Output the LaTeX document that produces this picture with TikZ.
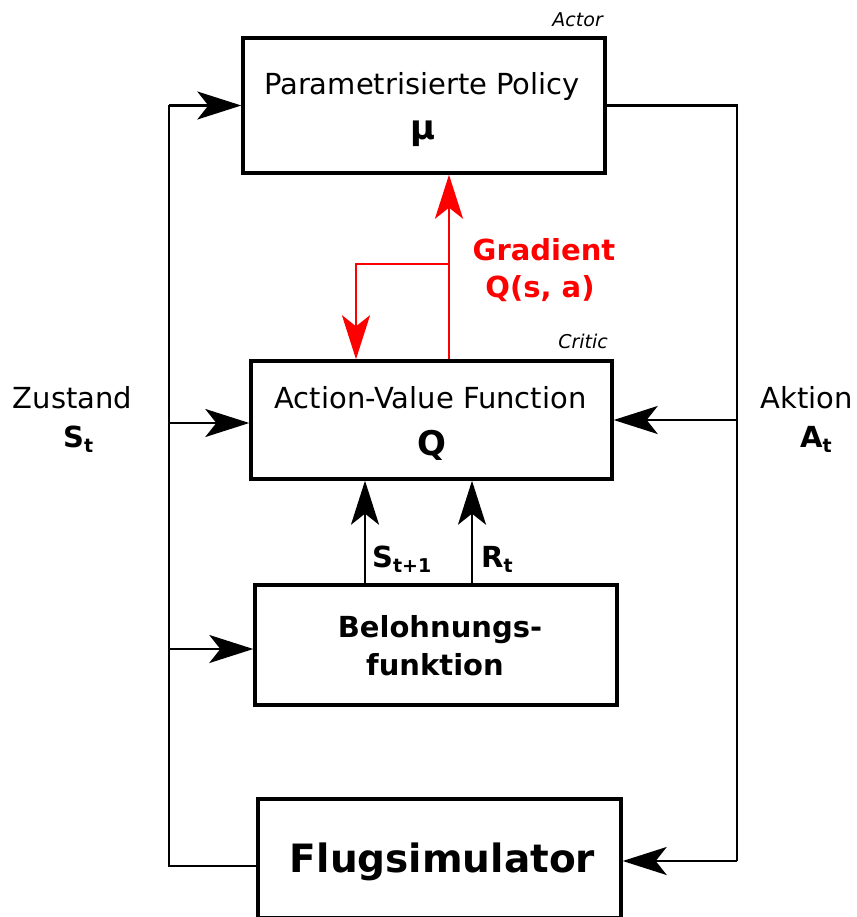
\documentclass[tikz,border=0pt]{standalone}
\usepackage{fontspec}
\setmainfont{DejaVu Sans}
\usetikzlibrary{arrows.meta}
\definecolor{gred}{RGB}{255,0,0}
\newcommand{\fsz}[1]{\fontsize{#1}{#1}\selectfont}
\newcommand{\sbs}[1]{\raisebox{-5pt}{\fsz{19}#1}}
\tikzset{
  box/.style={draw=black, line width=3.4pt, rectangle, inner sep=0pt},
  conn/.style={draw=black, line width=2.3pt},
  gconn/.style={draw=gred, line width=2.9pt},
  tip/.style={-{Stealth[length=44pt,width=28pt,inset=11pt]}},
  gtip/.style={-{Stealth[length=44pt,width=28pt,inset=11pt]}},
  txt/.style={inner sep=0pt, anchor=base, font=\fsz{29}},
  btxt/.style={inner sep=0pt, anchor=base, font=\fsz{29}\bfseries},
  lbl/.style={inner sep=0pt, anchor=base east, font=\fsz{19}\itshape},
}
\begin{document}
\begin{tikzpicture}[x=1pt,y=-1pt]
\path[use as bounding box] (0,0) rectangle (856,917);
\clip (0,0) rectangle (856,917);
% boxes
\node[box, minimum width=362pt, minimum height=135pt] (actor) at (424,105.5) {};
\node[box, minimum width=361pt, minimum height=118pt] (critic) at (431.5,420) {};
\node[box, minimum width=362pt, minimum height=120pt] (beloh) at (436,645) {};
\node[box, minimum width=363pt, minimum height=119pt] (flug) at (439.5,858.5) {};
% texts
\node[lbl] (actorlbl) at (603,27) {Actor};
\node[txt] (ptext) at (422,95) {Parametrisierte Policy};
\node[btxt, font=\fsz{34}\bfseries] (mu) at (423,140) {μ};
\node[lbl] (criticlbl) at (608,348) {Critic};
\node[txt] (qtext) at (430.5,408) {Action-Value Function};
\node[btxt, font=\fsz{34}\bfseries] (q) at (432,455) {Q};
\node[btxt, text=gred] (grad) at (544,260) {Gradient};
\node[btxt, text=gred] (qsa) at (540,297) {Q(s, a)};
\node[btxt] (bel1) at (440,637) {Belohnungs-};
\node[btxt] (bel2) at (435,675) {funktion};
\node[btxt, font=\fsz{39}\bfseries] (ftext) at (442.5,872) {Flugsimulator};
\node[btxt, anchor=base west] (sl) at (372,567) {S\sbs{t+1}};
\node[btxt, anchor=base west] (rl) at (481,567) {R\sbs{t}};
\node[txt] (zust) at (72.5,408) {Zustand};
\node[btxt, anchor=base west] (st) at (63,447) {S\sbs{t}};
\node[txt] (akt) at (806.5,408) {Aktion};
\node[btxt, anchor=base west] (at) at (800,447) {A\sbs{t}};
% left bus
\coordinate (lt) at (169,105.5);
\coordinate (lc) at (169,423);
\coordinate (lbl2) at (169,649);
\coordinate (lb) at (169,866);
\draw[conn] ([yshift=-7.5pt]flug.west) -- (lb) -- (lt);
\draw[conn, tip] (lt) -- (actor.west);
\draw[conn, tip] (lc) -- (lc -| critic.west);
\draw[conn, tip] (lbl2) -- (lbl2 -| beloh.west);
% right bus
\coordinate (rt) at (737,105.5);
\coordinate (rc) at (737,420);
\coordinate (rb) at (737,861);
\draw[conn] (actor.east) -- (rt) -- (rb);
\draw[conn, tip] (rb) -- (rb -| flug.east);
\draw[conn, tip] (rc) -- (critic.east);
% reward to critic
\coordinate (s1) at (365,585);
\coordinate (r1) at (472,585);
\draw[conn, tip] (s1) -- (s1 |- critic.south);
\draw[conn, tip] (r1) -- (r1 |- critic.south);
% gradient
\coordinate (g) at (449,264);
\coordinate (gl) at (356,264);
\draw[gconn, gtip] (g |- critic.north) -- (g |- actor.south);
\draw[gconn, gtip] (g) -- (gl) -- (gl |- critic.north);
\end{tikzpicture}
\end{document}
